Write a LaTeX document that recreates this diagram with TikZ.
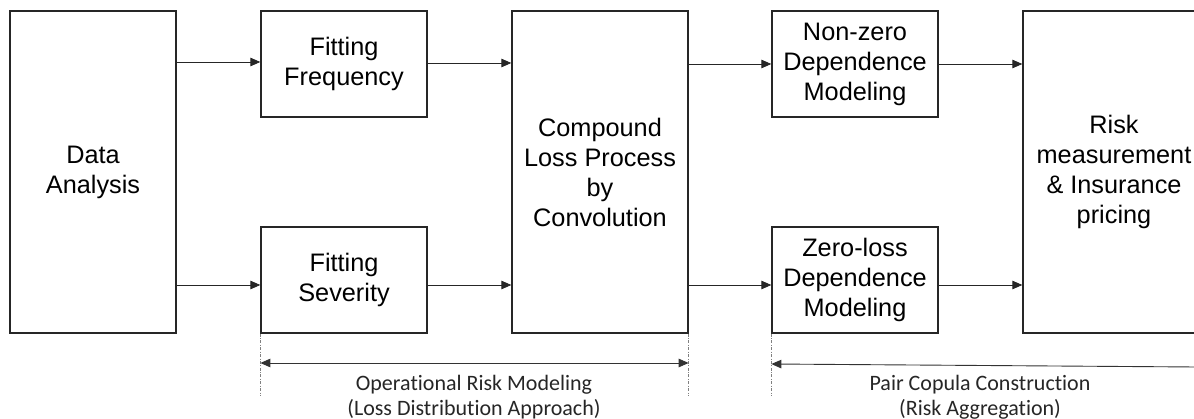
\documentclass[tikz,border=0pt]{standalone}
\usepackage{fontspec}
\setmainfont{Liberation Sans}
\newfontfamily\labfont[Ligatures=NoCommon]{Carlito}
\usetikzlibrary{arrows.meta}
\begin{document}
\begin{tikzpicture}[x=1pt,y=1pt,
  box/.style={draw=black!85, line width=1.3pt, align=center, inner sep=0pt,
    font=\fontsize{25.3}{30}\selectfont, minimum width=166pt},
  tall/.style={minimum height=322pt},
  short/.style={minimum height=106pt},
  arr/.style={draw=black!85, line width=0.9pt, -{Triangle[length=10pt,width=8.5pt]}},
  dimarr/.style={draw=black!80, line width=0.9pt, {Triangle[length=10pt,width=8.5pt]}-{Triangle[length=10pt,width=8.5pt]}},
  dimarrl/.style={draw=black!80, line width=0.9pt, {Triangle[length=10pt,width=8.5pt]}-},
  guide/.style={draw=black!50, line width=0.7pt, dash pattern=on 3pt off 1.5pt on 0.8pt off 1.5pt},
  lab/.style={font=\labfont\fontsize{22}{25}\selectfont, align=center, text=black!85, inner sep=0pt}]
\useasboundingbox (0,0) rectangle (1194,-419);
\clip (0,0) rectangle (1194,-419);
\node[box,tall] (data) at (93,-172) {Data\\Analysis};
\node[box,short] (freq) at (344,-64) {Fitting\\Frequency};
\node[box,short] (sev) at (344,-280) {Fitting\\Severity};
\node[box,tall,minimum width=176pt] (comp) at (600,-172) {Compound\\Loss Process\\by\\Convolution};
\node[box,short] (nonzero) at (855,-64) {Non-zero\\Dependence\\Modeling};
\node[box,short] (zero) at (855,-280) {Zero-loss\\Dependence\\Modeling};
\node[box,tall,minimum width=182pt] (risk) at (1114,-172) {Risk\\measurement\\\&~Insurance\\pricing};

\draw[arr] (data.east |- 0,-62) -- (freq.west |- 0,-62);
\draw[arr] (data.east |- 0,-285) -- (sev.west |- 0,-285);
\draw[arr] (freq.east |- 0,-63) -- (comp.west |- 0,-63);
\draw[arr] (sev.east |- 0,-285) -- (comp.west |- 0,-285);
\draw[arr] (comp.east |- 0,-64) -- (nonzero.west |- 0,-64);
\draw[arr] (comp.east |- 0,-285) -- (zero.west |- 0,-285);
\draw[arr] (nonzero.east |- 0,-64) -- (risk.west |- 0,-64);
\draw[arr] (zero.east |- 0,-285) -- (risk.west |- 0,-285);

\draw[guide] (sev.south west) -- ++(0,-62);
\draw[guide] (comp.south east) -- ++(0,-62);
\draw[guide] (zero.south west) -- ++(0,-62);

\draw[dimarr] (sev.south west |- 0,-363) -- (comp.south east |- 0,-363);
\coordinate (rend) at (1196,-367);
\draw[dimarrl] (zero.south west |- 0,-364) -- (rend);

\node[lab] (oplab) at (474,-397) {Operational Risk Modeling\\(Loss Distribution Approach)};
\node[lab] (pclab) at (980,-397) {Pair Copula Construction\\(Risk Aggregation)};
\end{tikzpicture}
\end{document}
